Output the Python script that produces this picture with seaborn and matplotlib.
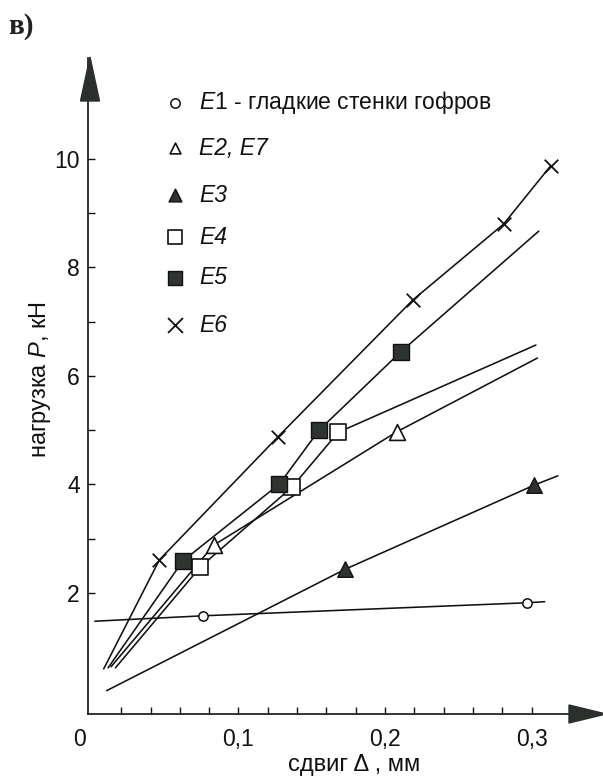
import matplotlib
matplotlib.use("Agg")
import matplotlib.pyplot as plt
import seaborn as sns
import pandas as pd
from matplotlib.patches import Polygon

# ---- measured points: shear (mm) vs load (kN) ----
e1_x = [0.076, 0.297]
e1_p = [1.58, 1.82]
e2_x = [0.083, 0.208]
e2_p = [2.88, 4.97]
e3_x = [0.173, 0.302]
e3_p = [2.44, 3.99]
e4_x = [0.074, 0.1365, 0.168]
e4_p = [2.48, 3.95, 4.96]
e5_x = [0.062, 0.128, 0.155, 0.211]
e5_p = [2.59, 4.01, 5.00, 6.45]
e6_x = [0.046, 0.127, 0.219, 0.281, 0.313]
e6_p = [2.61, 4.88, 7.40, 8.80, 9.87]

# ---- approximating curves ----
e1_line_x = [0.002, 0.076, 0.297, 0.309]
e1_line_p = [1.48, 1.58, 1.82, 1.84]
e2_line_x = [0.013, 0.083, 0.208, 0.304]
e2_line_p = [0.64, 2.88, 4.97, 6.33]
e3_line_x = [0.010, 0.173, 0.302, 0.318]
e3_line_p = [0.20, 2.44, 3.99, 4.16]
e4_line_x = [0.016, 0.074, 0.1365, 0.168, 0.303]
e4_line_p = [0.62, 2.48, 3.95, 4.96, 6.57]
e5_line_x = [0.011, 0.062, 0.128, 0.155, 0.211, 0.305]
e5_line_p = [0.62, 2.59, 4.01, 5.00, 6.45, 8.67]
e6_line_x = [0.008, 0.046, 0.127, 0.219, 0.281, 0.313]
e6_line_p = [0.60, 2.61, 4.88, 7.40, 8.80, 9.87]

legend_labels = [r"$\it{E1}$ - гладкие стенки гофров", "E2, E7", "E3", "E4", "E5", "E6"]
x_tick_labels = ["0,1", "0,2", "0,3"]
y_tick_labels = ["2", "4", "6", "8", "10"]

sns.set_style("ticks")
plt.rcParams["font.family"] = ["Liberation Sans", "DejaVu Sans"]
plt.rcParams["mathtext.fontset"] = "custom"
plt.rcParams["mathtext.rm"] = "Liberation Sans"
plt.rcParams["mathtext.it"] = "Liberation Sans:italic"

W, H = 603, 778
fig = plt.figure(figsize=(W / 100, H / 100), dpi=100)
ax = fig.add_axes([88 / W, 1 - 714 / H, 515 / W, 656 / H])

ink = "#111111"
dark = "#2f3431"

series = [
    (e1_line_x, e1_line_p, e1_x, e1_p, dict(marker="o", s=45, facecolor="white", edgecolor=ink, linewidth=1.1)),
    (e2_line_x, e2_line_p, e2_x, e2_p, dict(marker="^", s=130, facecolor="white", edgecolor=ink, linewidth=1.2)),
    (e3_line_x, e3_line_p, e3_x, e3_p, dict(marker="^", s=125, facecolor=dark, edgecolor=ink, linewidth=1.0)),
    (e4_line_x, e4_line_p, e4_x, e4_p, dict(marker="s", s=125, facecolor="white", edgecolor=ink, linewidth=1.2)),
    (e5_line_x, e5_line_p, e5_x, e5_p, dict(marker="s", s=125, facecolor=dark, edgecolor=ink, linewidth=1.0)),
    (e6_line_x, e6_line_p, e6_x, e6_p, dict(marker="x", s=95, color=ink, linewidth=1.3)),
]
key_sizes = [45, 60, 85, 115, 115, 115]

for lx, lp, mx, mp, mstyle in series:
    line_df = pd.DataFrame({"x": lx, "p": lp})
    sns.lineplot(data=line_df, x="x", y="p", ax=ax, color=ink, linewidth=1.15,
                 sort=False, estimator=None, zorder=2)
for lx, lp, mx, mp, mstyle in series:
    pts = pd.DataFrame({"x": mx, "p": mp})
    sns.scatterplot(data=pts, x="x", y="p", ax=ax, zorder=3, legend=False, **mstyle)

ax.set_xlim(-0.0027, 0.3488)
ax.set_ylim(-0.23, 11.86)

# ticks
ax.set_xticks([0.1, 0.2, 0.3])
ax.set_xticklabels(x_tick_labels)
ax.set_xticks([0.02 * i for i in range(1, 16)], minor=True)
ax.set_yticks([2, 4, 6, 8, 10])
ax.set_yticklabels(y_tick_labels)
ax.set_yticks([3, 5, 7, 9], minor=True)
ax.tick_params(which="both", direction="in", length=5, width=1.0, color=ink,
               labelsize=16.5, labelcolor=ink)
ax.tick_params(axis="x", which="both", pad=10)
ax.tick_params(axis="y", which="both", pad=6)

ax.set_xlabel("")
ax.set_ylabel("")
for side in ("top", "right"):
    ax.spines[side].set_visible(False)
for side in ("left", "bottom"):
    ax.spines[side].set_color(ink)
    ax.spines[side].set_linewidth(1.2)

# origin label
ax.annotate("0", xy=(0, 0), xycoords="axes fraction", xytext=(-6, -10),
            textcoords="offset points", ha="center", va="top", fontsize=16.5, color=ink)

# axis arrows
arrow_col = "#2b302d"
fig.patches.append(Polygon([(90 / W, 1 - 57 / H), (80.5 / W, 1 - 101 / H), (99.5 / W, 1 - 101 / H)],
                           closed=True, transform=fig.transFigure, facecolor=arrow_col,
                           edgecolor=arrow_col, zorder=5))
fig.patches.append(Polygon([(606 / W, 1 - 714 / H), (569 / W, 1 - 705 / H), (569 / W, 1 - 723 / H)],
                           closed=True, transform=fig.transFigure, facecolor=arrow_col,
                           edgecolor=arrow_col, zorder=5))

# axis titles
fig.text(354 / W, 1 - 765 / H, "сдвиг Δ , мм", ha="center", va="center", fontsize=17, color=ink)
fig.text(40 / W, 1 - 380 / H, r"нагрузка $\it{P}$, кН", ha="center", va="center",
         rotation=90, fontsize=17, color=ink)

# panel letter
fig.text(8 / W, 1 - 26 / H, "в)", ha="left", va="center", fontsize=21, fontweight="bold",
         family=["Liberation Serif", "DejaVu Serif"], color="#222222")

# key
key_x = (175 - 88) / 515
text_x = (199 - 88) / 515
key_rows = [103, 148, 195, 237, 278, 325]
for row, lab, (_, _, _, _, st), ks in zip(key_rows, legend_labels, series, key_sizes):
    yf = (714 - row) / 656
    st = dict(st)
    st["s"] = ks
    ax.scatter([key_x], [yf], transform=ax.transAxes, clip_on=False, zorder=4, **st)
    if "$" in lab:
        ax.text(text_x, yf, lab, transform=ax.transAxes, ha="left", va="center",
                fontsize=16.5, color=ink)
    else:
        ax.text(text_x, yf, lab, transform=ax.transAxes, ha="left", va="center",
                fontsize=16.5, color=ink, style="italic")

fig.savefig("out.png", dpi=100)
